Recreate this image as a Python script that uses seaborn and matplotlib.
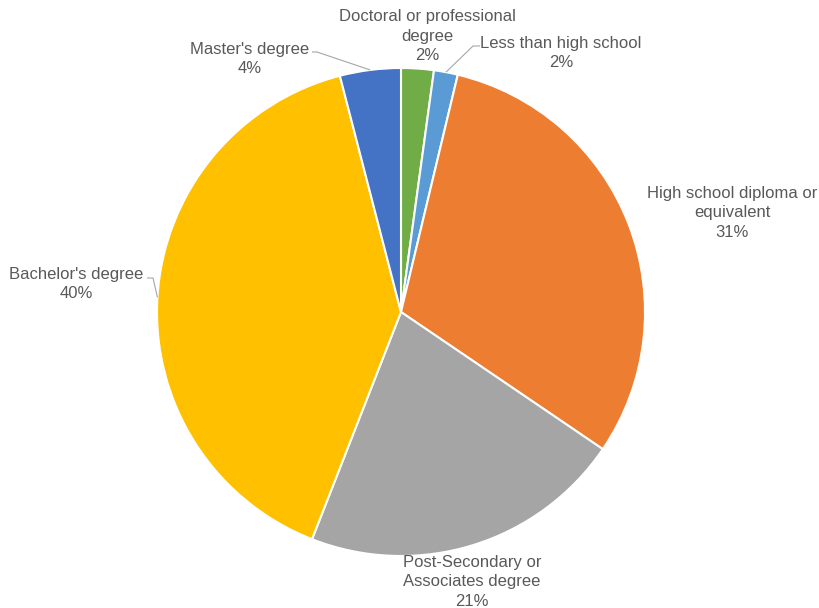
import numpy as np
import matplotlib
matplotlib.use("Agg")
import matplotlib.pyplot as plt
import seaborn as sns

# ---- data (clockwise from 12 o'clock) ----
categories = ["Doctoral or professional\ndegree", "Less than high school",
              "High school diploma or\nequivalent", "Post-Secondary or\nAssociates degree",
              "Bachelor's degree", "Master's degree"]
values = [2.16, 1.58, 30.76, 21.44, 40.03, 4.03]
pct_labels = ["2%", "2%", "31%", "21%", "40%", "4%"]

colors = ["#70AD47", "#5B9BD5", "#ED7D31", "#A5A5A5", "#FFC000", "#4472C4"]

sns.set_theme(style="white")
plt.rcParams['font.family'] = ['Liberation Sans', 'DejaVu Sans']

W, H = 820, 608
fig = plt.figure(figsize=(W / 100, H / 100), dpi=100)
ax = fig.add_axes([0, 0, 1, 1])
ax.set_xlim(0, W)
ax.set_ylim(0, H)
ax.axis("off")

cx, cy, R = 401, H - 312, 244
wedges, _ = ax.pie(values, colors=colors, startangle=90, counterclock=False,
                   center=(cx, cy), radius=R,
                   wedgeprops=dict(edgecolor="white", linewidth=1.5))
ax.set_xlim(0, W)
ax.set_ylim(0, H)
ax.set_aspect("equal")

# ---- label layout (pixel positions of first line centre, y from top) ----
label_pos = [(427, 15.5), (561, 42), (732, 192), (472, 561), (76.5, 273), (249.5, 48)]
line_pitch = 19.3
# leader line starting points (pixel), None = no leader
leader_start = [None, [(480, 46), (473, 46)], None, None,
                [(147, 278), (153, 278)], [(312, 52), (317, 52)]]

txt_color = "#595959"
for i, w in enumerate(wedges):
    x, y = label_pos[i]
    lines = categories[i].split("\n") + [pct_labels[i]]
    for k, line in enumerate(lines):
        ax.text(x, H - (y + k * line_pitch), line, ha="center", va="center_baseline",
                fontsize=12, color=txt_color)
    if leader_start[i] is not None:
        mid = np.deg2rad((w.theta1 + w.theta2) / 2)
        ex, ey = cx + R * np.cos(mid), cy + R * np.sin(mid)
        pts = [(px, H - py) for px, py in leader_start[i]] + [(ex, ey)]
        ax.plot([p[0] for p in pts], [p[1] for p in pts], color="#A6A6A6",
                linewidth=0.8, solid_capstyle="butt")

fig.savefig("out.png", dpi=100, facecolor="white")
